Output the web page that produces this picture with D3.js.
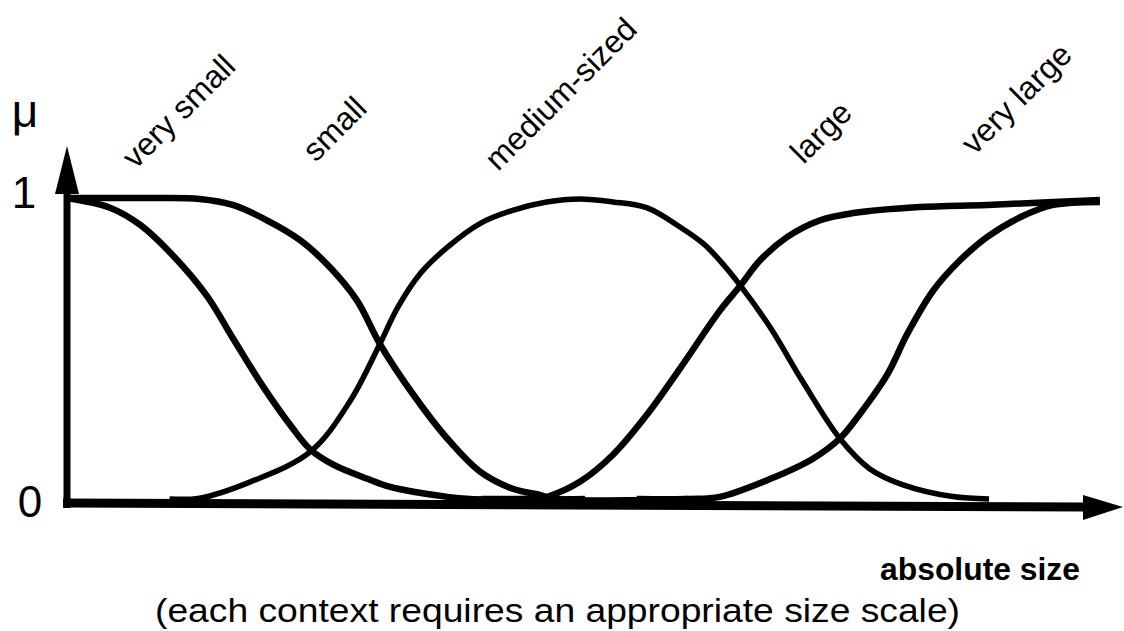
<!DOCTYPE html>
<html>
<head>
<meta charset="utf-8">
<script src="https://cdn.jsdelivr.net/npm/d3@7/dist/d3.min.js"></script>
<style>
  body { margin: 0; background: #fff; }
  text { font-family: "Liberation Sans", Arial, sans-serif; fill: #000; }
</style>
</head>
<body>
<div id="chart"></div>
<script>
////////// Data : membership degree mu over absolute size (0..100)
var categories = ["very small", "small", "medium-sized", "large", "very large"];

var verySmall = [[0,1],[4.2,0.967],[7.1,0.91],[10.2,0.81],[13.5,0.675],[16,0.535],[18.9,0.375],
  [21.8,0.234],[23.5,0.164],[25.7,0.114],[29,0.067],[31.2,0.04],[36.7,0.007],[38.9,0],[50,0]];
var small = [[0,1],[8,1],[12.8,0.997],[16,0.977],[19.3,0.926],[22.5,0.86],[25.4,0.769],[28,0.659],
  [30.2,0.515],[33.4,0.348],[36.7,0.201],[39.9,0.09],[43.1,0.033],[45.7,0.013],[47.1,0],[60,0]];
var medium = [[9.9,0],[12.8,0.003],[17.7,0.057],[23.5,0.157],[27.3,0.324],[30.2,0.515],[31.9,0.635],
  [34.1,0.749],[36.7,0.836],[39.9,0.916],[43.1,0.96],[46.3,0.987],[49.5,0.997],[52.7,0.987],
  [56,0.967],[59.2,0.903],[61.4,0.849],[63,0.793],[65,0.709],[67.9,0.569],[71,0.391],[74.6,0.201],
  [77.5,0.1],[80.7,0.047],[85.5,0.008],[89,0]];
var large = [[40,0],[45.7,0.003],[46.6,0.01],[49.5,0.057],[52.7,0.147],[56,0.281],[59.2,0.435],
  [63,0.625],[65,0.709],[66.9,0.793],[69.5,0.87],[72.7,0.926],[75.9,0.95],[82.3,0.97],[88.8,0.977],
  [95.2,0.987],[99.7,0.993]];
var veryLarge = [[55,0],[60.1,0],[63,0.007],[67.9,0.067],[72,0.134],[74.6,0.201],[76.5,0.281],
  [79.2,0.415],[81.1,0.548],[83.6,0.692],[86.2,0.793],[88.8,0.87],[92,0.936],[95.2,0.977],[99.7,0.987]];

var series = [verySmall, small, medium, large, veryLarge];
// where each label starts (in data units, along the top)
var labelX = [6.6, 24, 41.6, 71.1, 87.6];
var yTickLabels = ["0", "1"];

var w = 1124, h = 631;
var svg = d3.select("#chart").append("svg")
  .attr("width", w)
  .attr("height", h);

var x = d3.scaleLinear().domain([0, 100]).range([67, 1103]);
var y = d3.scaleLinear().domain([0, 1]).range([499, 198]);

/*
 * Axes (arrows)
 */
// y axis
svg.append("line")
  .attr("x1", x(0)).attr("x2", x(0))
  .attr("y1", 508).attr("y2", 190)
  .attr("stroke", "#000").attr("stroke-width", 7);
svg.append("path")
  .attr("d", "M" + (x(0) - 12) + ",194 L" + x(0) + ",146 L" + (x(0) + 12) + ",194 Z")
  .attr("fill", "#000");

// x axis
svg.append("line")
  .attr("x1", x(0) - 4).attr("y1", 503)
  .attr("x2", 1088).attr("y2", 507)
  .attr("stroke", "#000").attr("stroke-width", 9);
svg.append("path")
  .attr("d", "M1083,495 L1123,507 L1083,520 Z")
  .attr("fill", "#000");

// tick labels 0 and 1
svg.selectAll(".ytick")
  .data(yTickLabels)
  .enter().append("text")
  .attr("class", "ytick")
  .attr("x", function(d) { return d == "0" ? 30 : 24; })
  .attr("y", function(d) { return d == "0" ? 517 : 208; })
  .attr("text-anchor", "middle")
  .style("font-size", "44px")
  .text(function(d) { return d; });

// mu
svg.append("text")
  .attr("x", 25).attr("y", 127)
  .attr("text-anchor", "middle")
  .style("font-size", "46px")
  .text("\u03bc");

/*
 * Curves
 */
var line = d3.line()
  .x(function(d) { return x(d[0]); })
  .y(function(d) { return y(d[1]); })
  .curve(d3.curveCatmullRom.alpha(0.5));

svg.selectAll(".curve")
  .data(series)
  .enter().append("path")
  .attr("class", "curve")
  .attr("d", line)
  .attr("fill", "none")
  .attr("stroke", "#000")
  .attr("stroke-width", function(d, i) { return i == 2 ? 5.5 : 6.5; })
  .attr("stroke-linejoin", "round");

/*
 * Labels, rotated
 */
var labelBaseY = [170, 163, 172, 165, 156];
svg.selectAll(".lab")
  .data(categories)
  .enter().append("text")
  .attr("class", "lab")
  .attr("transform", function(d, i) {
    return "translate(" + x(labelX[i]) + "," + labelBaseY[i] + ") rotate(-45)";
  })
  .style("font-size", "32px")
  .text(function(d) { return d; });

// axis title + note
svg.append("text")
  .attr("x", 1080).attr("y", 580)
  .attr("text-anchor", "end")
  .style("font-size", "32px")
  .style("font-weight", "bold")
  .attr("textLength", 200)
  .attr("lengthAdjust", "spacingAndGlyphs")
  .text("absolute size");

svg.append("text")
  .attr("x", 155).attr("y", 622)
  .style("font-size", "34px")
  .attr("textLength", 805)
  .attr("lengthAdjust", "spacingAndGlyphs")
  .text("(each context requires an appropriate size scale)");
</script>
</body>
</html>
